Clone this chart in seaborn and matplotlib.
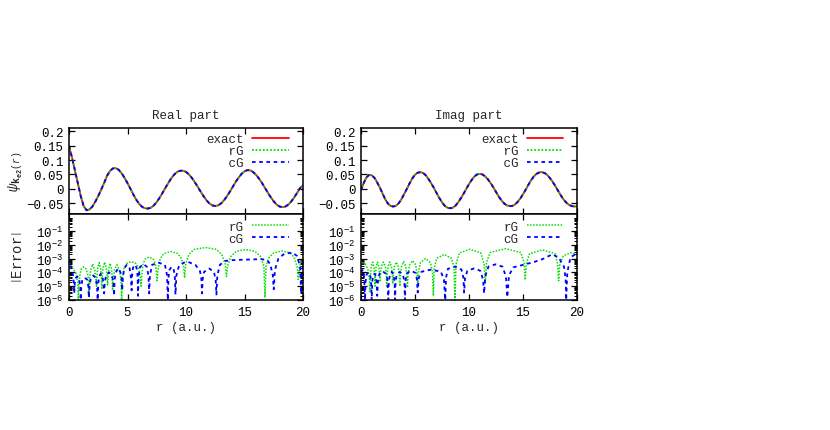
import numpy as np
import matplotlib
matplotlib.use("Agg")
import matplotlib.pyplot as plt
import seaborn as sns
from matplotlib.ticker import LogLocator, NullFormatter

sns.set_style("ticks")
plt.rcParams["font.family"] = ["Liberation Mono", "DejaVu Sans"]
plt.rcParams["mathtext.fontset"] = "custom"
plt.rcParams["mathtext.rm"] = "Liberation Mono"
plt.rcParams["mathtext.it"] = "Liberation Mono:italic"
plt.rcParams["mathtext.bf"] = "Liberation Mono:bold"
plt.rcParams["axes.unicode_minus"] = True

# ====================================
# DATA
# ====================================

r_wave = [0.0, 0.25, 0.5, 0.75, 1.0, 1.25, 1.5, 1.75, 2.0, 2.25, 2.5, 2.75,
          3.0, 3.25, 3.5, 3.75, 4.0, 4.25, 4.5, 4.75, 5.0, 5.25, 5.5, 5.75,
          6.0, 6.25, 6.5, 6.75, 7.0, 7.25, 7.5, 7.75, 8.0, 8.25, 8.5, 8.75,
          9.0, 9.25, 9.5, 9.75, 10.0, 10.25, 10.5, 10.75, 11.0, 11.25, 11.5, 11.75,
          12.0, 12.25, 12.5, 12.75, 13.0, 13.25, 13.5, 13.75, 14.0, 14.25, 14.5, 14.75,
          15.0, 15.25, 15.5, 15.75, 16.0, 16.25, 16.5, 16.75, 17.0, 17.25, 17.5, 17.75,
          18.0, 18.25, 18.5, 18.75, 19.0, 19.25, 19.5, 19.75, 20.0]

real_wave = [0.150, 0.110, 0.065, 0.020, -0.025, -0.060, -0.075, -0.072,
             -0.062, -0.045, -0.025, -0.003, 0.020, 0.045, 0.062, 0.071,
             0.072, 0.066, 0.054, 0.038, 0.020, 0.000, -0.020, -0.038,
             -0.053, -0.063, -0.068, -0.069, -0.066, -0.058, -0.046, -0.031,
             -0.014, 0.004, 0.021, 0.037, 0.050, 0.059, 0.063, 0.063,
             0.059, 0.050, 0.038, 0.023, 0.007, -0.010, -0.026, -0.040,
             -0.051, -0.058, -0.060, -0.058, -0.051, -0.040, -0.026, -0.010,
             0.007, 0.024, 0.039, 0.052, 0.061, 0.065, 0.064, 0.058,
             0.048, 0.035, 0.020, 0.003, -0.014, -0.030, -0.044, -0.055,
             -0.062, -0.064, -0.062, -0.055, -0.044, -0.030, -0.014, 0.002,
             0.012]

imag_wave = [-0.005, 0.020, 0.040, 0.048, 0.047, 0.038, 0.022, 0.004,
             -0.017, -0.037, -0.052, -0.060, -0.062, -0.059, -0.050, -0.036,
             -0.018, 0.000, 0.019, 0.036, 0.049, 0.056, 0.058, 0.055,
             0.047, 0.034, 0.019, 0.003, -0.015, -0.032, -0.047, -0.059,
             -0.066, -0.068, -0.066, -0.059, -0.047, -0.033, -0.017, 0.000,
             0.016, 0.031, 0.043, 0.050, 0.052, 0.050, 0.043, 0.033,
             0.020, 0.005, -0.011, -0.027, -0.040, -0.051, -0.058, -0.060,
             -0.060, -0.055, -0.046, -0.034, -0.019, -0.003, 0.014, 0.030,
             0.043, 0.052, 0.057, 0.058, 0.055, 0.048, 0.037, 0.024,
             0.009, -0.007, -0.023, -0.037, -0.048, -0.056, -0.060, -0.062,
             -0.061]

# |Error| curves as (r, error) pairs
real_rg = [(0.0, 5e-4), (0.15, 2.5e-4), (0.35, 2e-4), (0.6, 8e-5), (0.75, 2e-5), (0.8, 1e-6),
           (0.85, 2e-5), (0.95, 8e-5), (1.05, 1.8e-4), (1.25, 2.5e-4), (1.45, 1.8e-4), (1.6, 7e-5), (1.68, 2e-5), (1.72, 1.5e-6),
           (1.76, 3e-5), (1.85, 1.5e-4), (2.03, 4e-4), (2.2, 1.5e-4), (2.3, 3e-5), (2.35, 1e-5),
           (2.39, 5e-5), (2.46, 2e-4), (2.58, 5e-4), (2.7, 2e-4), (2.77, 5e-5), (2.8, 6e-6),
           (2.84, 5e-5), (2.92, 2.2e-4), (3.05, 5.5e-4), (3.18, 2.2e-4), (3.26, 5e-5), (3.3, 1.2e-5),
           (3.34, 5e-5), (3.41, 2e-4), (3.51, 4.5e-4), (3.62, 2e-4), (3.69, 5e-5), (3.72, 5e-6),
           (3.77, 3e-5), (3.88, 1.5e-4), (4.1, 3.5e-4), (4.32, 1.5e-4), (4.44, 3e-5), (4.5, 1e-6),
           (4.56, 3e-5), (4.7, 2e-4), (4.95, 4.5e-4), (5.33, 6e-4), (5.7, 4.5e-4), (5.95, 2e-4), (6.1, 4e-5), (6.16, 1e-5),
           (6.22, 6e-5), (6.33, 4e-4), (6.5, 9e-4), (6.85, 1.3e-3), (7.2, 9e-4), (7.38, 4e-4), (7.48, 8e-5), (7.53, 2.5e-5),
           (7.6, 1.5e-4), (7.8, 1e-3), (8.1, 2.3e-3), (8.7, 3.2e-3), (9.3, 2.3e-3), (9.6, 1e-3), (9.8, 2.5e-4), (9.88, 4e-5),
           (9.98, 4e-4), (10.25, 2e-3), (10.7, 4.6e-3), (11.67, 6.3e-3), (12.6, 4.6e-3), (13.05, 2e-3), (13.35, 4e-4), (13.46, 5e-5),
           (13.56, 3e-4), (13.85, 1.5e-3), (14.3, 3.3e-3), (15.1, 4.5e-3), (15.9, 3.3e-3), (16.35, 1.5e-3), (16.65, 3e-4), (16.75, 1.5e-6),
           (16.85, 3e-4), (17.1, 1.2e-3), (17.5, 2.6e-3), (18.2, 3.5e-3), (18.9, 2.6e-3), (19.25, 1.2e-3), (19.5, 2.5e-4), (19.6, 3e-5),
           (19.7, 2.5e-4), (19.85, 6e-4), (20.0, 9e-4)]

real_cg = [(0.0, 1e-3), (0.08, 4e-4), (0.2, 2e-4), (0.32, 8e-5), (0.42, 1.5e-5), (0.45, 3e-6),
           (0.49, 1.5e-5), (0.58, 4e-5), (0.72, 5e-5), (0.86, 4e-5), (0.96, 1e-5), (1.0, 1e-6),
           (1.05, 1e-5), (1.15, 3e-5), (1.35, 4e-5), (1.55, 3e-5), (1.65, 1e-5), (1.7, 1.5e-6),
           (1.76, 1.2e-5), (1.87, 4e-5), (2.07, 6e-5), (2.27, 4e-5), (2.39, 1.2e-5), (2.45, 1e-6),
           (2.5, 1.5e-5), (2.58, 5e-5), (2.72, 8e-5), (2.86, 5e-5), (2.95, 1.5e-5), (3.0, 3e-6),
           (3.06, 2e-5), (3.17, 6e-5), (3.42, 1e-4), (3.67, 6e-5), (3.79, 2e-5), (3.85, 2e-6),
           (3.9, 3e-5), (4.0, 1e-4), (4.2, 2e-4), (4.4, 1e-4), (4.5, 3e-5), (4.55, 5e-6),
           (4.6, 4e-5), (4.72, 2e-4), (4.95, 3.5e-4), (5.18, 2e-4), (5.3, 4e-5), (5.35, 5e-6),
           (5.39, 6e-5), (5.47, 2.2e-4), (5.62, 3.5e-4), (5.77, 2.2e-4), (5.86, 6e-5), (5.9, 2e-6),
           (5.95, 5e-5), (6.08, 2.5e-4), (6.37, 4e-4), (6.66, 2.5e-4), (6.8, 5e-5), (6.85, 3e-6),
           (6.92, 6e-5), (7.1, 3.5e-4), (7.65, 5e-4), (8.2, 3.5e-4), (8.38, 6e-5), (8.45, 1e-6),
           (8.5, 4e-5), (8.58, 1.5e-4), (8.77, 2.5e-4), (8.96, 1.5e-4), (9.05, 4e-5), (9.1, 2.5e-6),
           (9.18, 6e-5), (9.4, 3e-4), (9.8, 5e-4), (10.2, 5.6e-4), (10.8, 3.5e-4), (11.2, 1.2e-4), (11.32, 3e-5), (11.37, 3e-6),
           (11.42, 3e-5), (11.55, 1.1e-4), (12.0, 1.9e-4), (12.4, 1e-4), (12.54, 2.5e-5), (12.6, 2.5e-6),
           (12.68, 6e-5), (12.9, 3.5e-4), (13.3, 6.5e-4), (13.8, 7.5e-4), (14.5, 8e-4), (15.5, 8.5e-4), (16.4, 9e-4),
           (16.9, 8e-4), (17.2, 4e-4), (17.42, 6e-5), (17.5, 6e-6),
           (17.6, 1.5e-4), (17.9, 1e-3), (18.4, 2.2e-3), (19.1, 2.7e-3), (19.5, 1.5e-3), (19.75, 2.5e-4), (19.85, 3e-6),
           (19.92, 1e-4), (20.0, 3e-4)]

imag_rg = [(0.0, 3e-4), (0.15, 5e-4), (0.4, 4e-4), (0.65, 1.5e-4), (0.78, 3e-5), (0.83, 4e-6),
           (0.87, 5e-5), (0.93, 2.5e-4), (1.07, 5.5e-4), (1.2, 2.5e-4), (1.26, 6e-5), (1.3, 1e-5),
           (1.34, 6e-5), (1.4, 2.5e-4), (1.53, 5.5e-4), (1.66, 2.5e-4), (1.72, 6e-5), (1.76, 2e-5),
           (1.8, 6e-5), (1.88, 2.5e-4), (2.07, 5.5e-4), (2.26, 2.5e-4), (2.34, 6e-5), (2.38, 1e-5),
           (2.42, 6e-5), (2.5, 2.5e-4), (2.66, 5.5e-4), (2.82, 2.5e-4), (2.9, 6e-5), (2.94, 1.5e-5),
           (2.99, 6e-5), (3.08, 2.5e-4), (3.27, 5.5e-4), (3.46, 2.5e-4), (3.55, 6e-5), (3.6, 1e-5),
           (3.65, 6e-5), (3.76, 2.8e-4), (3.95, 6e-4), (4.14, 2.8e-4), (4.25, 6e-5), (4.3, 8e-6),
           (4.36, 7e-5), (4.5, 3.5e-4), (4.78, 7e-4), (5.06, 3.5e-4), (5.19, 7e-5), (5.25, 1e-5),
           (5.32, 1e-4), (5.5, 5e-4), (5.97, 1e-3), (6.44, 5e-4), (6.62, 1e-4), (6.7, 2e-6),
           (6.78, 2e-4), (7.0, 1e-3), (7.7, 2e-3), (8.4, 1e-3), (8.62, 2e-4), (8.7, 1e-6),
           (8.8, 4e-4), (9.1, 2.5e-3), (10.1, 4.7e-3), (11.1, 2.5e-3), (11.4, 4e-4), (11.5, 1.4e-5),
           (11.62, 5e-4), (11.95, 2.7e-3), (13.4, 5.2e-3), (14.8, 2.7e-3), (15.1, 5e-4), (15.2, 2.8e-5),
           (15.3, 4e-4), (15.6, 2.2e-3), (16.8, 4.2e-3), (18.0, 2.2e-3), (18.2, 4e-4), (18.3, 2.5e-5),
           (18.4, 4e-4), (18.75, 1.6e-3), (19.4, 2.6e-3), (20.0, 2.2e-3)]

imag_cg = [(0.0, 1e-4), (0.15, 1.5e-4), (0.3, 4e-5), (0.37, 1e-6),
           (0.42, 2e-5), (0.52, 7e-5), (0.68, 1e-4), (0.84, 7e-5), (0.94, 2e-5), (0.99, 1e-6),
           (1.04, 2e-5), (1.12, 5.5e-5), (1.25, 8e-5), (1.38, 5.5e-5), (1.46, 1.5e-5), (1.5, 2e-6),
           (1.58, 3e-5), (1.72, 8e-5), (2.0, 1.2e-4), (2.3, 8e-5), (2.45, 3e-5), (2.53, 1e-6),
           (2.58, 2e-5), (2.67, 7e-5), (2.85, 1.1e-4), (3.03, 7e-5), (3.11, 2e-5), (3.15, 1e-6),
           (3.2, 2e-5), (3.3, 6e-5), (3.6, 1.1e-4), (3.9, 6e-5), (4.02, 2e-5), (4.07, 1e-6),
           (4.13, 3e-5), (4.27, 9e-5), (4.66, 1.3e-4), (5.05, 9e-5), (5.18, 3e-5), (5.25, 3.5e-6),
           (5.35, 4e-5), (5.6, 1.1e-4), (6.5, 1.6e-4), (7.4, 1.1e-4), (7.68, 3e-5), (7.8, 1e-6),
           (7.87, 4e-5), (8.05, 1.8e-4), (8.7, 2.6e-4), (9.3, 1.6e-4), (9.48, 4e-5), (9.55, 3.5e-6),
           (9.63, 4e-5), (9.85, 1.3e-4), (10.45, 1.9e-4), (11.05, 1.3e-4), (11.3, 3e-5), (11.4, 3e-6),
           (11.5, 5e-5), (11.8, 2.6e-4), (12.45, 3.8e-4), (13.1, 2.6e-4), (13.42, 5e-5), (13.55, 1.6e-6),
           (13.7, 6e-5), (14.1, 2.3e-4), (15.2, 3.8e-4), (16.0, 5.5e-4), (16.8, 9e-4), (17.7, 2e-3),
           (18.3, 1.2e-3), (18.8, 2.5e-4), (18.95, 3e-5), (19.0, 1e-6),
           (19.1, 1e-4), (19.4, 1.2e-3), (20.0, 2.5e-3)]

panel_titles = ["Real part", "Imag part"]
wave_yticks = [-0.05, 0.0, 0.05, 0.1, 0.15, 0.2]
wave_ylabels = ["\u22120.05", "0", "0.05", "0.1", "0.15", "0.2"]
err_yticks = [1e-6, 1e-5, 1e-4, 1e-3, 1e-2, 1e-1]
err_ylabels = [r"$\mathrm{10^{-6}}$", r"$\mathrm{10^{-5}}$", r"$\mathrm{10^{-4}}$",
               r"$\mathrm{10^{-3}}$", r"$\mathrm{10^{-2}}$", r"$\mathrm{10^{-1}}$"]
xticks = [0, 5, 10, 15, 20]

RED = "#ff0000"
GREEN = "#00e000"
BLUE = "#0000ff"
FS = 9

# ====================================
# FIGURE
# ====================================

W, H = 830, 431
fig = plt.figure(figsize=(W / 100, H / 100), dpi=100)


def box(x0, x1, y0, y1):
    return [x0 / W, 1 - y1 / H, (x1 - x0) / W, (y1 - y0) / H]


columns = [(69, 303), (361, 577)]
waves = [real_wave, imag_wave]
errs = [(real_rg, real_cg), (imag_rg, imag_cg)]


def style_axis(ax):
    for s in ax.spines.values():
        s.set_linewidth(1.1)
        s.set_color("black")
    ax.tick_params(which="both", direction="in", top=True, right=True,
                   labelsize=FS, colors="black", pad=4)
    ax.tick_params(which="major", length=4.5, width=0.9)
    ax.tick_params(which="minor", length=2.5, width=0.7)
    ax.set_xlim(0, 20)
    ax.set_xticks(xticks)


for i, (x0, x1) in enumerate(columns):
    ax_top = fig.add_axes(box(x0, x1, 129, 215))
    ax_bot = fig.add_axes(box(x0, x1, 215, 301))

    # ---- wave function panel
    sns.lineplot(x=r_wave, y=waves[i], ax=ax_top, color=RED, lw=1.3,
                 label="exact", estimator=None, sort=False)
    sns.lineplot(x=r_wave, y=waves[i], ax=ax_top, color=GREEN, lw=1.3,
                 linestyle=(0, (1, 1)), label="   rG", estimator=None, sort=False)
    sns.lineplot(x=r_wave, y=waves[i], ax=ax_top, color=BLUE, lw=1.3,
                 linestyle=(0, (2, 2)), label="   cG", estimator=None, sort=False)
    style_axis(ax_top)
    ax_top.set_ylim(-0.088, 0.212)
    ax_top.set_yticks(wave_yticks)
    ax_top.set_yticklabels(wave_ylabels)
    ax_top.set_xticklabels([])
    ax_top.set_xlabel("")
    ax_top.set_title(panel_titles[i], fontsize=FS, pad=7)
    ax_top.legend(loc="upper right", bbox_to_anchor=(0.96, 1.0), borderaxespad=0,
                  frameon=False, markerfirst=False, handlelength=2.9,
                  handletextpad=0.7, labelspacing=0.0, fontsize=FS)

    # ---- error panel
    rg, cg = errs[i]
    sns.lineplot(x=[p[0] for p in rg], y=[p[1] for p in rg], ax=ax_bot,
                 color=GREEN, lw=1.1, linestyle=(0, (1, 1)), label="rG",
                 estimator=None, sort=False)
    sns.lineplot(x=[p[0] for p in cg], y=[p[1] for p in cg], ax=ax_bot,
                 color=BLUE, lw=1.3, linestyle=(0, (2, 2)), label="cG",
                 estimator=None, sort=False)
    ax_bot.set_yscale("log")
    style_axis(ax_bot)
    ax_bot.set_ylim(1e-6, 10 ** 0.22)
    ax_bot.set_yticks(err_yticks)
    ax_bot.set_yticklabels(err_ylabels)
    ax_bot.yaxis.set_minor_locator(LogLocator(base=10, subs=np.arange(2, 10), numticks=20))
    ax_bot.yaxis.set_minor_formatter(NullFormatter())
    ax_bot.set_xticklabels([str(t) for t in xticks])
    ax_bot.set_xlabel("r (a.u.)", fontsize=FS)
    ax_bot.xaxis.set_label_coords(0.5, -0.24)
    ax_bot.legend(loc="upper right", bbox_to_anchor=(0.96, 0.98), borderaxespad=0,
                  frameon=False, markerfirst=False, handlelength=2.9,
                  handletextpad=0.7, labelspacing=0.0, fontsize=FS)

    if i == 0:
        ax_top.set_ylabel(r"$\psi_{\mathbf{k_{e2}}(r)}$", fontsize=10)
        ax_top.yaxis.set_label_coords(-0.19, 0.5)
        ax_bot.set_ylabel(r"$\left|\mathrm{Error}\right|$", fontsize=10)
        ax_bot.yaxis.set_label_coords(-0.19, 0.5)
    else:
        ax_top.set_ylabel("")
        ax_bot.set_ylabel("")

plt.savefig("out.png", dpi=100)
plt.close()
